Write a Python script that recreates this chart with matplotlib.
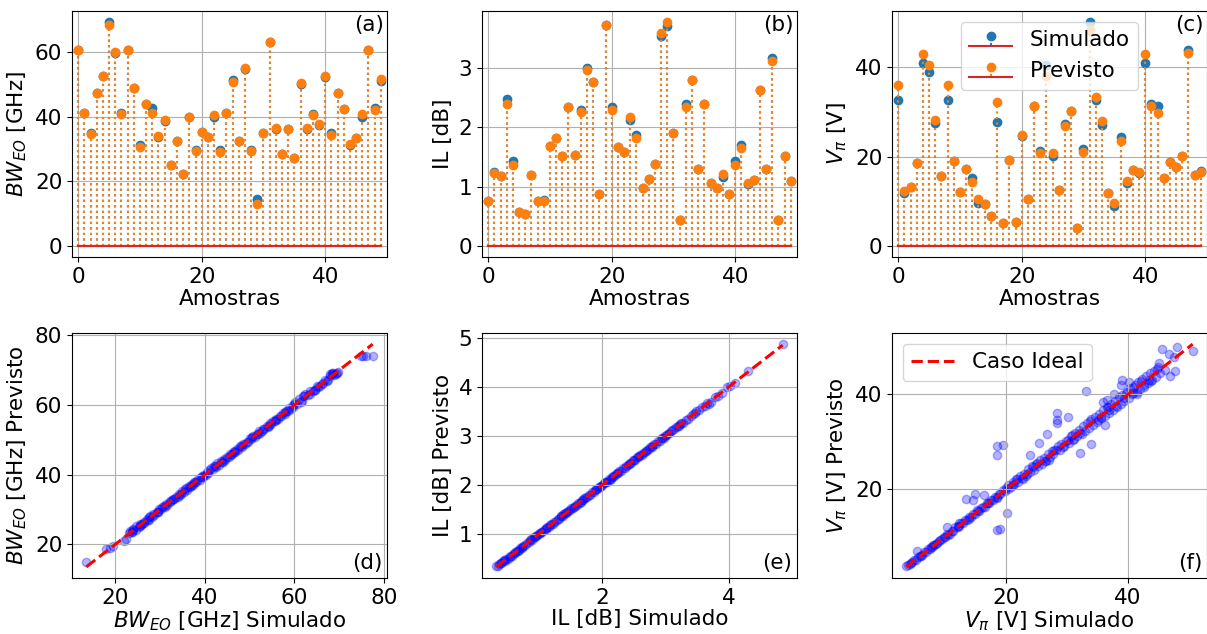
import matplotlib
matplotlib.use("Agg")
import matplotlib.pyplot as plt

# ---------------- data: top row (50 samples) ----------------
samples = list(range(50))

bw_sim = [60.8, 41.3, 35.1, 47.3, 52.5, 69.3, 59.8, 41.2, 60.8, 48.9,
          31.2, 43.9, 42.6, 33.6, 38.7, 25.0, 32.5, 22.3, 39.9, 29.8,
          35.2, 33.7, 39.9, 29.6, 41.2, 51.3, 32.4, 54.8, 29.7, 14.5,
          34.9, 63.2, 36.2, 28.5, 36.1, 27.3, 50.1, 36.2, 40.9, 37.4,
          52.4, 34.9, 47.4, 42.5, 31.2, 33.4, 39.9, 60.8, 42.6, 51.2]
bw_prev = [60.8, 41.3, 34.7, 47.3, 52.7, 68.4, 60.1, 40.9, 60.8, 48.9,
           30.7, 44.1, 41.1, 34.0, 39.0, 25.0, 32.5, 22.3, 39.9, 29.5,
           35.2, 33.7, 40.6, 29.1, 41.2, 50.7, 32.4, 55.2, 29.5, 13.1,
           34.9, 63.2, 36.6, 28.5, 36.3, 27.3, 50.3, 36.6, 40.6, 37.7,
           52.6, 34.3, 47.4, 42.5, 31.6, 33.4, 40.7, 60.8, 42.2, 51.8]

il_sim = [0.76, 1.245, 1.18, 2.48, 1.43, 0.58, 0.53, 1.20, 0.75, 0.77,
          1.69, 1.83, 1.51, 2.35, 1.53, 2.29, 3.01, 2.77, 0.87, 3.73,
          2.34, 1.67, 1.58, 2.13, 1.87, 0.97, 1.13, 1.39, 3.54, 3.72,
          1.91, 0.44, 2.39, 2.81, 1.30, 2.40, 1.07, 0.98, 1.17, 0.88,
          1.43, 1.70, 1.04, 1.12, 2.64, 1.30, 3.17, 0.44, 1.52, 1.10]
il_prev = [0.75, 1.23, 1.18, 2.39, 1.36, 0.58, 0.53, 1.20, 0.75, 0.76,
           1.69, 1.83, 1.51, 2.34, 1.53, 2.27, 2.97, 2.77, 0.87, 3.73,
           2.29, 1.67, 1.58, 2.17, 1.83, 0.97, 1.13, 1.39, 3.59, 3.78,
           1.91, 0.44, 2.35, 2.81, 1.30, 2.40, 1.07, 0.98, 1.22, 0.88,
           1.36, 1.65, 1.06, 1.12, 2.64, 1.30, 3.13, 0.44, 1.52, 1.09]

vpi_sim = [32.7, 11.9, 13.1, 18.6, 41.0, 39.0, 27.5, 15.7, 32.7, 18.9,
           12.1, 17.1, 15.1, 9.6, 9.3, 6.6, 27.8, 5.2, 19.2, 5.4,
           24.5, 10.4, 31.4, 21.3, 40.4, 20.1, 12.6, 27.3, 30.3, 4.1,
           21.6, 50.1, 32.6, 27.1, 11.8, 9.0, 24.3, 14.1, 16.9, 16.3,
           41.0, 31.7, 31.3, 15.1, 18.8, 17.6, 20.2, 43.8, 15.9, 16.8]
vpi_prev = [36.0, 12.3, 13.1, 18.6, 42.9, 40.6, 28.2, 15.7, 36.0, 18.9,
            12.1, 17.1, 14.3, 10.4, 9.3, 6.6, 32.2, 5.2, 19.2, 5.4,
            24.9, 10.4, 31.4, 20.9, 38.0, 20.7, 12.6, 26.9, 30.3, 4.1,
            21.1, 48.3, 33.3, 28.0, 11.8, 9.6, 23.4, 14.6, 16.9, 16.6,
            42.9, 31.3, 29.7, 15.1, 18.8, 17.6, 20.2, 43.1, 15.9, 16.6]

# ---------------- data: bottom row (scatter) ----------------
d_sim = [13.5, 18.0, 18.9, 19.5, 21.9, 22.3, 23.0, 23.3, 23.8, 24.0,
         24.5, 24.7, 25.2, 25.6, 25.8, 26.3, 26.5, 27.0, 27.4, 27.6,
         28.1, 28.4, 28.7, 29.2, 29.5, 29.8, 30.3, 30.5, 31.0, 31.4,
         31.6, 32.1, 32.3, 32.8, 33.1, 33.5, 33.9, 34.2, 34.6, 34.9,
         35.3, 35.6, 36.0, 36.4, 36.7, 37.1, 37.3, 37.8, 38.1, 38.4,
         38.9, 39.1, 39.5, 39.9, 40.2, 40.7, 41.0, 41.3, 41.8, 42.0,
         42.5, 42.8, 43.1, 43.6, 43.9, 44.3, 44.6, 45.0, 45.4, 45.7,
         46.1, 46.4, 46.8, 47.2, 47.5, 47.9, 48.3, 48.6, 49.0, 49.3,
         49.7, 50.1, 50.4, 50.8, 51.1, 51.6, 51.9, 52.2, 52.7, 53.0,
         53.3, 53.8, 54.1, 54.5, 54.8, 55.2, 55.6, 55.9, 56.3, 56.7,
         57.0, 57.4, 57.8, 58.1, 58.6, 58.9, 59.3, 59.8, 60.2, 60.5,
         61.1, 61.6, 62.0, 62.4, 63.0, 63.6, 64.2, 64.7, 65.3, 65.8,
         66.2, 66.9, 67.5, 67.9, 68.3, 68.7, 69.2, 69.8, 74.8, 75.4,
         76.0, 77.5, 23.6, 27.2, 30.8, 34.4, 40.5, 44.0, 48.1, 52.4,
         56.0, 60.0, 61.4, 62.2, 64.5, 66.5, 68.0, 68.9, 35.8, 26.0,
         23.9, 25.4, 27.8, 29.6, 32.6, 36.9, 39.3, 42.2, 45.9, 50.6,
         54.3, 57.9, 59.6, 63.4, 65.0, 67.2, 68.5, 69.5, 37.6, 46.6]
d_prev = [14.8, 18.6, 18.8, 19.6, 20.9, 21.6, 23.2, 23.9, 23.5, 24.3,
          24.2, 25.1, 25.0, 25.9, 25.5, 26.5, 26.2, 27.3, 27.1, 27.9,
          27.8, 28.7, 28.5, 29.4, 29.2, 30.1, 30.0, 30.8, 30.8, 31.6,
          31.3, 32.3, 32.1, 33.0, 32.9, 33.7, 33.6, 34.5, 34.3, 35.2,
          35.0, 35.9, 35.7, 36.6, 36.4, 37.3, 37.0, 38.0, 37.9, 38.7,
          38.6, 39.4, 39.3, 40.0, 40.0, 40.5, 41.4, 41.9, 41.5, 42.6,
          42.3, 43.4, 42.9, 43.9, 43.6, 44.6, 44.3, 45.2, 45.1, 45.9,
          45.8, 46.7, 46.5, 47.4, 47.2, 48.1, 48.0, 48.9, 48.7, 49.5,
          49.5, 50.4, 50.1, 51.0, 50.8, 51.8, 51.6, 52.4, 52.5, 53.2,
          53.0, 54.0, 53.8, 54.7, 54.5, 55.4, 55.3, 56.1, 56.0, 56.9,
          56.8, 57.6, 57.5, 58.4, 58.3, 59.1, 59.0, 59.9, 60.9, 60.3,
          61.6, 61.3, 62.6, 63.3, 62.8, 63.9, 63.9, 64.4, 65.1, 65.6,
          66.0, 67.2, 67.3, 69.0, 68.9, 69.2, 68.9, 69.6, 74.0, 74.0,
          74.1, 74.0, 23.4, 27.0, 31.1, 34.2, 40.8, 43.6, 48.3, 52.1,
          55.7, 60.4, 61.0, 62.6, 64.2, 66.2, 68.3, 68.7, 36.1, 25.8,
          24.1, 25.2, 28.0, 29.4, 32.8, 36.7, 39.5, 42.6, 45.6, 50.9,
          54.1, 58.1, 59.4, 63.2, 65.4, 66.8, 69.1, 69.3, 37.8, 46.4]

e_sim = [0.33, 0.36, 0.38, 0.41, 0.43, 0.46, 0.49, 0.51, 0.54, 0.57,
         0.59, 0.62, 0.65, 0.67, 0.70, 0.73, 0.75, 0.78, 0.81, 0.84,
         0.86, 0.89, 0.92, 0.94, 0.97, 1.00, 1.03, 1.05, 1.08, 1.11,
         1.13, 1.16, 1.19, 1.22, 1.24, 1.27, 1.30, 1.32, 1.35, 1.38,
         1.41, 1.43, 1.46, 1.49, 1.51, 1.54, 1.57, 1.60, 1.62, 1.65,
         1.68, 1.70, 1.73, 1.76, 1.79, 1.81, 1.84, 1.87, 1.89, 1.92,
         1.95, 1.98, 2.00, 2.03, 2.06, 2.08, 2.11, 2.14, 2.17, 2.19,
         2.22, 2.25, 2.27, 2.30, 2.33, 2.36, 2.38, 2.41, 2.44, 2.46,
         2.49, 2.52, 2.55, 2.57, 2.60, 2.63, 2.65, 2.68, 2.71, 2.74,
         2.76, 2.79, 2.82, 2.85, 2.88, 2.91, 2.94, 2.97, 3.01, 3.04,
         3.08, 3.11, 3.14, 3.17, 3.21, 3.25, 3.28, 3.32, 3.36, 3.40,
         3.44, 3.48, 3.53, 3.57, 3.62, 3.66, 3.72, 3.78, 3.83, 3.90,
         3.97, 4.02, 4.10, 4.30, 4.85, 0.45, 0.69, 0.95, 1.18, 1.45,
         1.72, 1.97, 2.24, 2.51, 2.79, 3.06, 3.19, 0.55, 1.35, 2.12,
         0.40, 0.63, 0.88, 1.12, 1.39, 1.66, 1.91, 2.16, 2.42, 2.69,
         2.95, 3.23, 3.46, 3.69, 0.74, 1.02, 1.55, 2.05, 2.58, 2.99]
e_prev = [0.34, 0.35, 0.39, 0.40, 0.44, 0.45, 0.50, 0.50, 0.55, 0.56,
          0.60, 0.61, 0.66, 0.66, 0.71, 0.72, 0.76, 0.77, 0.82, 0.83,
          0.87, 0.88, 0.93, 0.93, 0.98, 1.01, 1.04, 1.04, 1.09, 1.10,
          1.14, 1.15, 1.20, 1.21, 1.25, 1.26, 1.31, 1.31, 1.36, 1.37,
          1.42, 1.42, 1.47, 1.48, 1.52, 1.53, 1.58, 1.59, 1.63, 1.64,
          1.69, 1.69, 1.74, 1.75, 1.80, 1.80, 1.85, 1.86, 1.90, 1.91,
          1.96, 1.97, 2.00, 2.03, 2.07, 2.07, 2.12, 2.13, 2.18, 2.18,
          2.23, 2.24, 2.28, 2.29, 2.34, 2.35, 2.39, 2.40, 2.45, 2.45,
          2.50, 2.51, 2.56, 2.56, 2.61, 2.62, 2.66, 2.67, 2.72, 2.73,
          2.77, 2.78, 2.83, 2.84, 2.89, 2.90, 2.95, 2.96, 3.02, 3.03,
          3.09, 3.12, 3.15, 3.18, 3.20, 3.26, 3.27, 3.33, 3.35, 3.41,
          3.45, 3.50, 3.52, 3.58, 3.61, 3.67, 3.69, 3.80, 3.82, 3.88,
          4.00, 4.01, 4.08, 4.33, 4.87, 0.46, 0.68, 0.96, 1.19, 1.44,
          1.73, 1.96, 2.25, 2.50, 2.80, 3.05, 3.20, 0.54, 1.36, 2.11,
          0.41, 0.63, 0.89, 1.12, 1.40, 1.66, 1.92, 2.16, 2.43, 2.69,
          2.96, 3.24, 3.47, 3.64, 0.74, 1.03, 1.55, 2.06, 2.59, 3.00]

f_sim = [3.7, 4.0, 4.3, 4.7, 5.0, 5.3, 5.6, 5.9, 6.3, 6.6,
         6.9, 7.2, 7.5, 7.9, 8.2, 8.5, 8.8, 9.2, 9.5, 9.8,
         10.1, 10.4, 10.8, 11.1, 11.4, 11.7, 12.1, 12.4, 12.7, 13.0,
         13.3, 13.7, 14.0, 14.3, 14.6, 15.0, 15.3, 15.6, 15.9, 16.2,
         16.6, 16.9, 17.2, 17.5, 17.9, 18.2, 18.5, 18.8, 19.1, 19.5,
         19.8, 20.1, 20.4, 20.8, 21.1, 21.4, 21.7, 22.0, 22.4, 22.7,
         23.0, 23.3, 23.7, 24.0, 24.3, 24.6, 24.9, 25.3, 25.6, 25.9,
         26.2, 26.6, 26.9, 27.2, 27.5, 27.8, 28.2, 28.5, 28.8, 29.1,
         29.5, 29.8, 30.1, 30.4, 30.7, 31.1, 31.4, 31.7, 32.0, 32.4,
         32.7, 33.0, 33.3, 33.6, 34.0, 34.3, 34.6, 34.9, 35.3, 35.6,
         35.9, 36.2, 36.5, 36.9, 37.2, 37.5, 37.8, 38.2, 38.5, 38.8,
         39.1, 39.4, 39.8, 40.1, 40.4, 40.7, 41.1, 41.4, 41.7, 42.0,
         42.3, 42.7, 43.0, 43.3, 43.6, 44.0, 44.3, 44.6, 44.9, 45.3,
         33.2, 28.3, 28.3, 28.4, 30.2, 18.5, 19.6, 18.5, 20.2, 18.5,
         19.0, 13.4, 14.7, 16.5, 14.9, 23.9, 25.5, 26.7, 33.9, 32.1,
         35.6, 36.3, 45.5, 48.0, 50.6, 46.9, 47.7, 46.0, 45.1, 46.7,
         47.6, 41.5, 40.2, 39.3, 37.7, 35.9, 38.8, 39.1, 36.9, 36.6,
         5.4, 10.3, 42.6, 43.8, 41.0, 12.4, 8.1, 22.8, 27.0, 31.0,
         4.5, 6.1, 7.7, 9.0, 10.6, 12.2, 13.9, 15.4, 17.0, 18.6,
         20.3, 21.9, 23.5, 25.1, 26.4, 27.9, 29.3, 30.9, 32.2, 33.8,
         35.1, 36.7, 38.0, 39.6, 40.9, 42.2, 43.5, 44.8, 21.2, 24.4]
f_prev = [3.8, 4.1, 4.2, 4.8, 5.1, 5.2, 5.8, 5.9, 6.2, 6.8,
          6.9, 7.4, 7.4, 7.8, 8.4, 8.5, 8.7, 9.4, 9.5, 9.9,
          10.0, 10.7, 10.6, 11.3, 11.2, 12.0, 12.0, 12.3, 13.0, 12.9,
          13.5, 13.5, 14.3, 14.1, 14.9, 14.8, 15.6, 15.4, 16.1, 16.4,
          16.4, 17.2, 17.1, 17.8, 17.7, 18.5, 18.3, 19.1, 19.0, 19.8,
          19.6, 20.4, 20.9, 20.5, 21.5, 21.2, 22.1, 21.6, 22.8, 22.4,
          23.2, 22.9, 24.3, 23.7, 24.9, 24.1, 25.4, 25.0, 26.1, 25.4,
          26.6, 26.0, 27.5, 26.8, 28.1, 27.5, 28.4, 29.2, 28.3, 29.6,
          29.1, 30.3, 30.4, 29.8, 31.3, 30.6, 31.9, 31.2, 32.6, 31.7,
          33.4, 32.4, 33.9, 33.0, 34.8, 33.6, 35.3, 34.2, 35.9, 35.0,
          36.7, 35.5, 37.4, 36.1, 37.9, 36.8, 38.6, 37.4, 39.4, 38.0,
          39.9, 38.6, 40.6, 39.3, 41.4, 40.0, 41.9, 40.6, 42.6, 41.2,
          43.2, 41.9, 43.8, 42.5, 44.5, 43.1, 45.0, 43.6, 45.8, 44.5,
          40.7, 36.0, 34.6, 33.9, 35.2, 29.1, 29.4, 27.2, 15.0, 11.5,
          11.6, 17.9, 17.7, 18.9, 19.0, 27.2, 29.8, 31.6, 29.5, 27.7,
          35.3, 33.6, 49.6, 50.0, 49.1, 43.8, 44.9, 45.2, 46.6, 48.6,
          47.9, 40.2, 42.7, 39.3, 40.2, 38.5, 42.0, 43.0, 36.7, 38.8,
          7.1, 12.0, 41.5, 42.8, 41.6, 12.9, 8.4, 22.3, 26.2, 30.4,
          4.6, 6.0, 7.9, 9.1, 10.5, 12.4, 13.8, 15.5, 17.2, 18.4,
          20.0, 22.3, 23.3, 25.6, 26.0, 28.4, 29.0, 31.5, 31.8, 34.4,
          34.6, 37.3, 37.5, 40.3, 40.3, 42.9, 43.0, 45.4, 21.0, 24.7]

# ---------------- figure ----------------
plt.rcParams['font.size'] = 15.5
fig = plt.figure(figsize=(12.07, 6.34), dpi=100)

W, H = 1207.0, 634.0
lefts = [72, 482, 892]
aw = 315
top_row = (11, 257)
bot_row = (333, 578)

def make_ax(left, rows):
    t, b = rows
    return fig.add_axes([left / W, 1 - b / H, aw / W, (b - t) / H])

top_axes = [make_ax(l, top_row) for l in lefts]
bot_axes = [make_ax(l, bot_row) for l in lefts]

top_data = [(bw_sim, bw_prev, r'$BW_{EO}$ [GHz]', '(a)'),
            (il_sim, il_prev, 'IL [dB]', '(b)'),
            (vpi_sim, vpi_prev, r'$V_{\pi}$ [V]', '(c)')]

for ax, (s, p, ylab, tag) in zip(top_axes, top_data):
    ax.stem(samples, s, linefmt='C0:', markerfmt='C0o', basefmt='C3-', label='Simulado')
    ax.stem(samples, p, linefmt='C1:', markerfmt='C1o', basefmt='C3-', label='Previsto')
    ax.set_xlim(-1, 50)
    ax.set_xlabel('Amostras', labelpad=2)
    ax.set_ylabel(ylab)
    ax.grid(True)
    ax.text(0.99, 0.985, tag, transform=ax.transAxes, ha='right', va='top')

top_axes[2].legend(loc='upper center')

bot_data = [(d_sim, d_prev, r'$BW_{EO}$ [GHz] Simulado', r'$BW_{EO}$ [GHz] Previsto', '(d)'),
            (e_sim, e_prev, 'IL [dB] Simulado', 'IL [dB] Previsto', '(e)'),
            (f_sim, f_prev, r'$V_{\pi}$ [V] Simulado', r'$V_{\pi}$ [V] Previsto', '(f)')]

for ax, (s, p, xlab, ylab, tag) in zip(bot_axes, bot_data):
    ax.scatter(s, p, color='b', alpha=0.3)
    lo, hi = min(s), max(s)
    ax.plot([lo, hi], [lo, hi], 'r--', lw=2.2, label='Caso Ideal')
    ax.set_xlabel(xlab, labelpad=1)
    ax.set_ylabel(ylab)
    ax.grid(True)
    ax.text(0.985, 0.02, tag, transform=ax.transAxes, ha='right', va='bottom')

bot_axes[1].set_xticks([2, 4])
bot_axes[2].legend(loc='upper left')

fig.savefig('out.png', dpi=100)
